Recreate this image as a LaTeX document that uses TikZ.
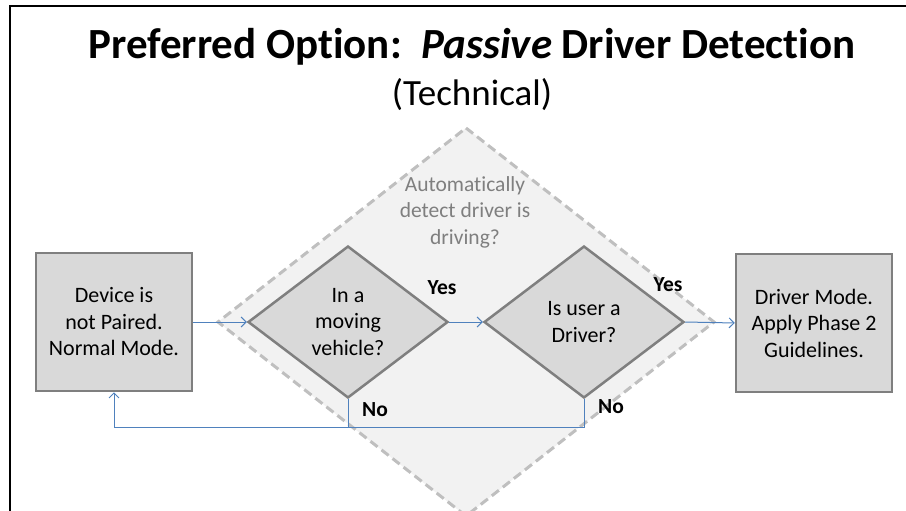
\documentclass[tikz,border=0pt]{standalone}
\usepackage{fontspec}
\setmainfont{Carlito}[Ligatures={NoCommon}]
\usetikzlibrary{shapes.geometric,arrows.meta}
\definecolor{conn}{HTML}{4F81BD}
\definecolor{shapefill}{HTML}{D9D9D9}
\definecolor{shapeline}{HTML}{7F7F7F}
\definecolor{bigfill}{HTML}{F2F2F2}
\definecolor{bigline}{HTML}{BFBFBF}
\definecolor{graytext}{HTML}{7F7F7F}
\tikzset{
  boxnode/.style={draw=shapeline, fill=shapefill, line width=2.5pt, minimum width=156pt, minimum height=138pt, align=center, font=\fontsize{22}{26.5}\selectfont, inner sep=0pt},
  decnode/.style={draw=shapeline, fill=shapefill, line width=2.5pt, diamond, minimum width=200pt, minimum height=152pt, align=center, font=\fontsize{22}{26.5}\selectfont, inner sep=0pt},
  conline/.style={draw=conn, line width=1pt},
  conarrow/.style={conline, -{Straight Barb[length=5pt,width=10pt,line width=1pt]}},
  lbl/.style={font=\fontsize{21.5}{24}\selectfont\bfseries},
}
\begin{document}
\begin{tikzpicture}[x=1pt,y=-1pt]
\useasboundingbox (0,0) rectangle (906,511);
% frame
\draw[line width=2pt] (10,520) -- (10,6) -- (910,6);
% title
\node (title) at (472,47) {\fontsize{43}{46}\selectfont\bfseries Preferred Option:\ \ \textit{Passive} Driver Detection};
\node (sub) at (472,95) {\fontsize{37}{40}\selectfont (Technical)};
% big dashed diamond
\draw[fill=bigfill, draw=bigline, line width=3pt, dash pattern=on 9pt off 5pt]
  (466,128) -- (714,322) -- (466,516) -- (218,322) -- cycle;
\node[text=graytext, align=center, font=\fontsize{21.5}{26.5}\selectfont] (auto) at (465,212) {Automatically\\detect driver is\\driving?};
% nodes
\node[boxnode] (dev) at (114,322) {Device is\\not Paired.\\Normal Mode.};
\node[boxnode] (drv) at (814,323) {Driver Mode.\\Apply Phase 2\\Guidelines.};
\node[decnode] (mov) at (348,322) {In a\\moving\\vehicle?};
\node[decnode] (usr) at (584,322) {Is user a\\Driver?};
% connectors
\draw[conarrow] (dev.east) -- (mov.west);
\draw[conarrow] (mov.east) -- (usr.west);
\draw[conarrow] (usr.east) -- (drv.west);
\coordinate (j1) at (348,427);
\coordinate (j2) at (584,427);
\draw[conarrow] (mov.south) -- (j1) -| (dev.south);
\draw[conline] (usr.south) -- (j2) -- (j1);
% labels
\node[lbl] (y1) at (442,288) {Yes};
\node[lbl] (y2) at (668,285) {Yes};
\node[lbl] (n1) at (375,410) {No};
\node[lbl] (n2) at (611,407) {No};
\end{tikzpicture}
\end{document}
